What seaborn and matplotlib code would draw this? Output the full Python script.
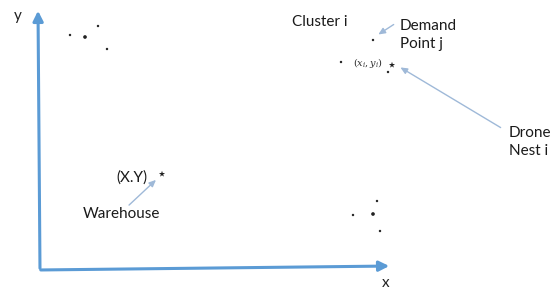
import matplotlib
matplotlib.use("Agg")
import matplotlib.pyplot as plt
import seaborn as sns
import pandas as pd

# diagram coordinates (pixel space of the original sketch, y grows downward)
point_x = [70, 85, 98, 107, 373, 341, 388, 377, 353, 373, 380]
point_y = [35, 37, 26, 49, 40, 62, 72, 201, 215, 214, 231]
point_size = [4, 9, 4, 4, 4, 4, 4, 4, 4, 9, 4]

star_x = [162, 392]
star_y = [174, 65]

labels = ["Cluster i", "Demand\nPoint j", "Drone\nNest i", "(X.Y)", "Warehouse"]
label_x = [292, 400, 509, 116, 83]
label_y = [22, 35, 142, 178, 214]

df = pd.DataFrame({"x": point_x, "y": point_y, "s": point_size})

sns.set_style("white")
plt.rcParams["font.family"] = ["Lato", "DejaVu Sans"]
plt.rcParams["mathtext.fontset"] = "dejavuserif"

fig = plt.figure(figsize=(5.56, 2.92), dpi=100)
ax = fig.add_axes([0, 0, 1, 1])
ax.set_xlim(0, 556)
ax.set_ylim(292, 0)
ax.axis("off")

axis_blue = "#5b9bd5"
light_blue = "#9fb9d8"

# coordinate axes
ax.annotate("", xy=(38, 8), xytext=(40, 271),
            arrowprops=dict(arrowstyle="-|>,head_length=0.6,head_width=0.3",
                            color=axis_blue, lw=2.2))
ax.annotate("", xy=(392, 266), xytext=(38, 270),
            arrowprops=dict(arrowstyle="-|>,head_length=0.6,head_width=0.3",
                            color=axis_blue, lw=2.2))
ax.text(18, 16, "y", fontsize=11, ha="center", va="center", color="#222222")
ax.text(386, 283, "x", fontsize=11, ha="center", va="center", color="#222222")

# demand points
sns.scatterplot(data=df, x="x", y="y", size="s", sizes=(3, 7), color="#222222",
                edgecolor="none", legend=False, ax=ax)
sns.scatterplot(x=star_x, y=star_y, marker="*", s=22, color="#222222",
                edgecolor="none", ax=ax)

# labels
for txt, lx, ly in zip(labels, label_x, label_y):
    ax.text(lx, ly, txt, fontsize=11, ha="left", va="center",
            color="#1a1a1a", linespacing=1.3)
ax.text(353, 63, r"$(x_i, y_i)$", fontsize=7,
        ha="left", va="center", color="#333333")

# pointer arrows
arrow = dict(arrowstyle="-|>,head_length=0.4,head_width=0.18",
             color=light_blue, lw=1.0)
ax.annotate("", xy=(376, 36), xytext=(396, 23), arrowprops=arrow)
ax.annotate("", xy=(398, 66), xytext=(503, 129), arrowprops=arrow)
ax.annotate("", xy=(158, 178), xytext=(127, 207), arrowprops=arrow)

fig.savefig("out.png", dpi=100)
